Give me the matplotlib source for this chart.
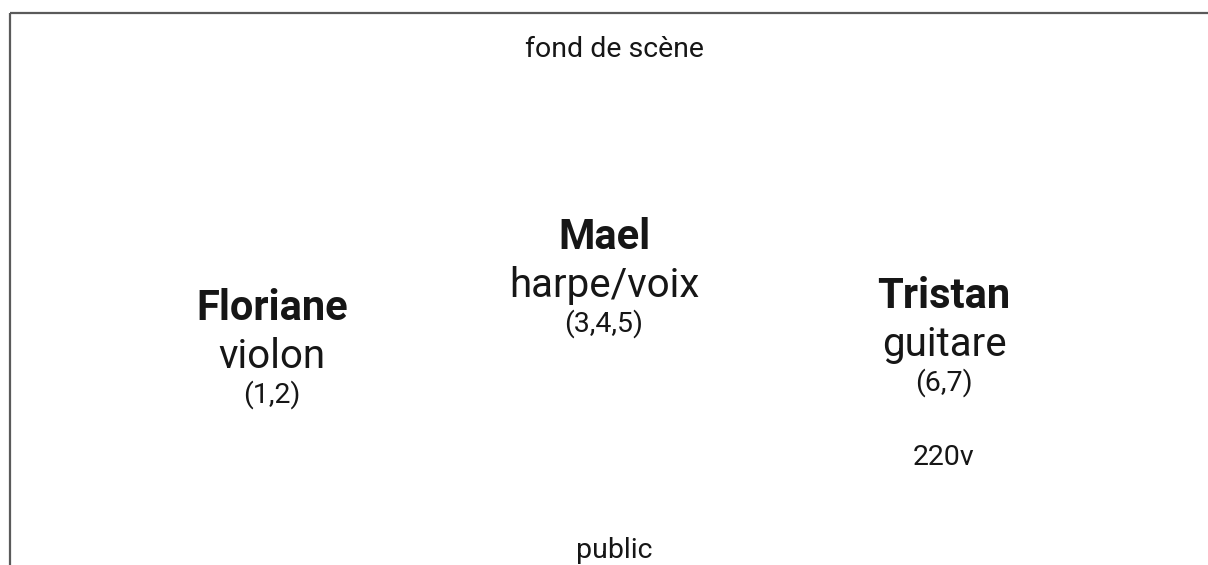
import matplotlib.pyplot as plt
from matplotlib.patches import Rectangle

plt.rcParams['font.family'] = ['Roboto', 'DejaVu Sans']

# stage plan data
names = ["Floriane", "Mael", "Tristan"]
instruments = ["violon", "harpe/voix", "guitare"]
channels = ["(1,2)", "(3,4,5)", "(6,7)"]
top_label = "fond de scène"
bottom_label = "public"
power_label = "220v"

# layout (pixels, y downward)
W, H = 1208, 565
xs = [272, 604, 944]
base = [319.5, 249, 308]

fig = plt.figure(figsize=(W / 100, H / 100), dpi=100)
ax = fig.add_axes([0, 0, 1, 1])
ax.set_xlim(0, W)
ax.set_ylim(H, 0)
ax.axis("off")

# stage border (only left and top edges visible)
ax.add_patch(Rectangle((9.5, 12.5), W + 20, H + 20, fill=False,
                       edgecolor="#5a5a5a", linewidth=1.6, clip_on=False))

big = 30
mid = 29
small = 20.5
col = "#161616"

for x, b, n, ins, ch in zip(xs, base, names, instruments, channels):
    ax.text(x, b, n, ha="center", va="baseline", fontsize=big,
            fontweight="bold", color=col)
    ax.text(x, b + 48, ins, ha="center", va="baseline", fontsize=mid,
            color=col)
    ax.text(x, b + 83, ch, ha="center", va="baseline", fontsize=small,
            color=col)

ax.text(614, 57, top_label, ha="center", va="baseline", fontsize=small, color=col)
ax.text(614, 558, bottom_label, ha="center", va="baseline", fontsize=small, color=col)
ax.text(944, 465, power_label, ha="center", va="baseline", fontsize=small, color=col)

fig.savefig("out.png", dpi=100)
